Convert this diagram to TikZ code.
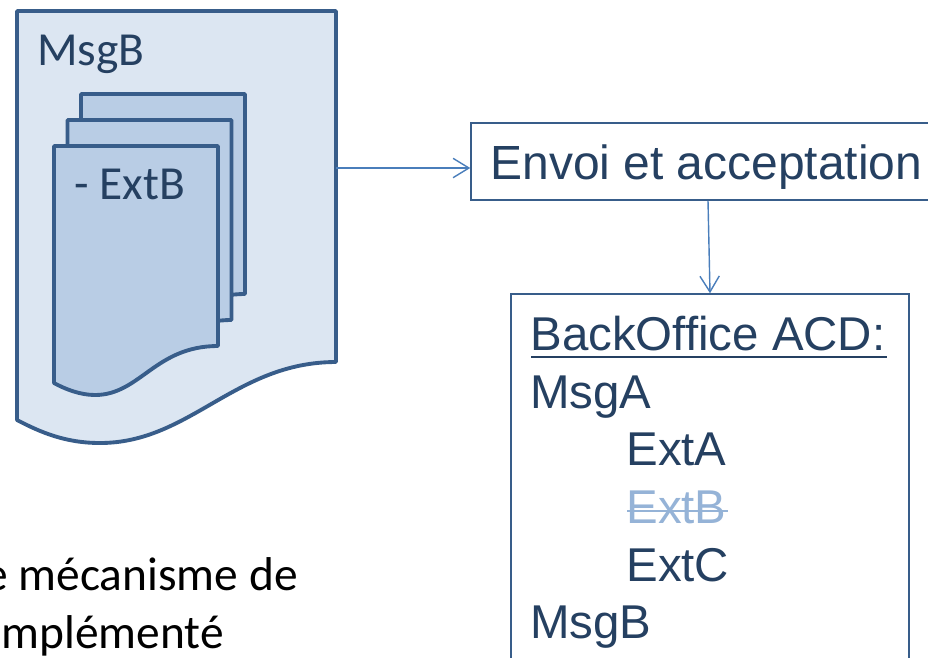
\documentclass[tikz,border=0pt]{standalone}
\usepackage{fontspec}
\setmainfont{Carlito}
\newfontfamily\arialfont{Liberation Sans}
\usetikzlibrary{arrows.meta}
\definecolor{docline}{HTML}{385D8A}
\definecolor{docfill}{HTML}{DCE6F2}
\definecolor{extfill}{HTML}{B9CDE5}
\definecolor{arrowline}{HTML}{4A7EBB}
\definecolor{navytext}{HTML}{254061}
\definecolor{struck}{HTML}{95B3D7}
\tikzset{
    docstyle/.style={draw=docline, line width=2.2pt, line join=round},
    boxstyle/.style={draw=docline, line width=0.9pt, fill=white, inner sep=0pt},
    linkstyle/.style={draw=arrowline, line width=0.8pt, -{Straight Barb[length=9pt,width=11pt,line width=0.8pt]}},
    carlitotext/.style={anchor=base west, inner sep=0pt, text=navytext, font=\fontsize{27}{32}\selectfont},
    ariallabel/.style={anchor=base west, inner sep=0pt, text=navytext, font=\arialfont\fontsize{27}{32}\selectfont},
    notetext/.style={anchor=base east, inner sep=0pt, text=black, font=\fontsize{27}{32}\selectfont}
}
\begin{document}
\begin{tikzpicture}[x=0.02cm, y=0.02cm]
        \useasboundingbox (0,0) rectangle (928,-657);
        \clip (0,0) rectangle (928,-657);
        % outer document
        \draw [docstyle, fill=docfill] (17,-11) -- (336,-11) -- (336,-362)
            .. controls (235,-362) and (190,-443) .. (100,-443)
            .. controls (65,-443) and (40,-432) .. (17,-420) -- cycle;
        \coordinate (msgbedge) at (336,-168);
        \node [carlitotext] (msgbtitle) at (37,-65) {MsgB};
        % stack of extensions, back to front
        \foreach \dx/\dy in {27/52, 13.5/26, 0/0} {
            \draw [docstyle, fill=extfill, shift={(\dx,\dy)}] (54,-146) -- (218,-146) -- (218,-346)
                .. controls (155,-346) and (140,-395) .. (95,-395)
                .. controls (80,-395) and (65,-389) .. (54,-383) -- cycle;
        }
        \node [carlitotext] (extbtag) at (74,-199) {- ExtB};
        % boxes
        \node [boxstyle, minimum width=9.48cm, minimum height=1.54cm] (envoi) at (708,-161.5) {};
        \node [ariallabel, font=\arialfont\fontsize{27.3}{32}\selectfont] (envoitext) at (490,-179) {Envoi et acceptation};
        \node [boxstyle, minimum width=7.96cm, minimum height=8.12cm] (acd) at (710,-497) {};
        \node [ariallabel] (acdtitle) at (530,-350) {BackOffice ACD:};
        \draw [navytext, line width=1.6pt] (531,-357) -- (887,-357);
        \node [ariallabel] (msga) at (530,-408) {MsgA};
        \node [ariallabel] (exta) at (626,-465) {ExtA};
        \node [ariallabel, text=struck] (extb) at (626,-523) {ExtB};
        \draw [struck, line width=1pt] (627,-511) -- (728,-511);
        \node [ariallabel] (extc) at (626,-581) {ExtC};
        \node [ariallabel] (msgb) at (530,-638) {MsgB};
        % note under the document
        \node [notetext] (noteone) at (298,-590) {e mécanisme de};
        \node [notetext] (notetwo) at (224,-648) {mplémenté};
        % links
        \draw [linkstyle] (msgbedge) -- (envoi.west |- msgbedge);
        \draw [linkstyle] (envoi.south) -- (acd.north);
    \end{tikzpicture}
\end{document}
